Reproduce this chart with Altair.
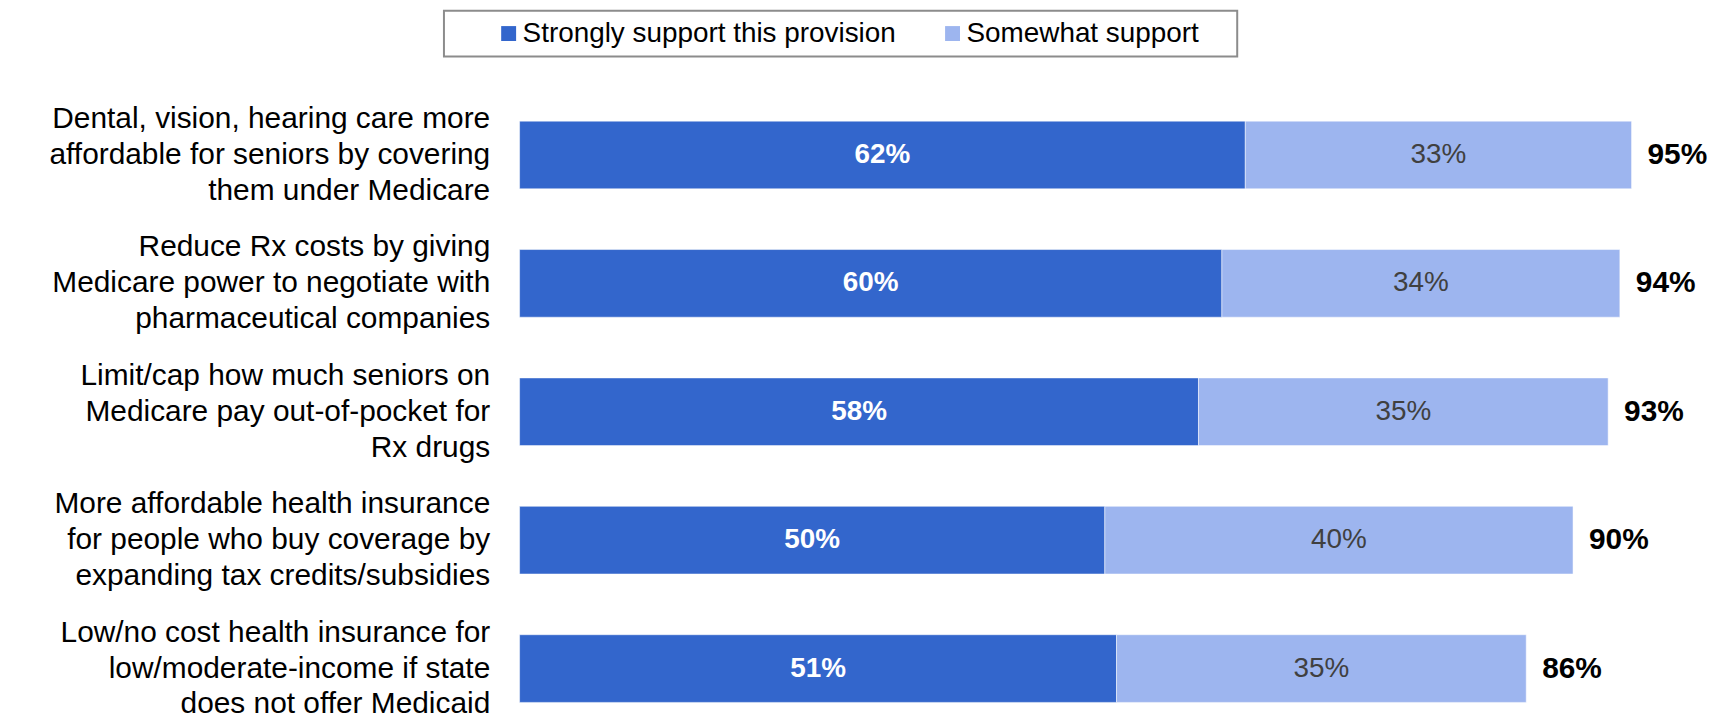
import altair as alt
import pandas as pd

items = [
    "Dental, vision, hearing care more|affordable for seniors by covering|them under Medicare",
    "Reduce Rx costs by giving|Medicare power to negotiate with|pharmaceutical companies",
    "Limit/cap how much seniors on|Medicare pay out-of-pocket for|Rx drugs",
    "More affordable health insurance|for people who buy coverage by|expanding tax credits/subsidies",
    "Low/no cost health insurance for|low/moderate-income if state|does not offer Medicaid",
]
strong = [62, 60, 58, 50, 51]
somewhat = [33, 34, 35, 40, 35]
totals = [95, 94, 93, 90, 86]
series = ["Strongly support this provision", "Somewhat support"]
colors = ["#3366CC", "#9DB5EF"]

FONT = "Liberation Sans"

rows = []
for i, it in enumerate(items):
    rows.append({"item": it, "series": series[0], "value": strong[i], "order": 0})
    rows.append({"item": it, "series": series[1], "value": somewhat[i], "order": 1})
df = pd.DataFrame(rows)
tot = pd.DataFrame({"item": items, "total": totals})

yenc = alt.Y(
    "item:N",
    sort=items,
    title=None,
    scale=alt.Scale(paddingInner=0.473, paddingOuter=0),
    axis=alt.Axis(
        labelExpr="split(datum.label, '|')",
        labelFontSize=30,
        labelLineHeight=36,
        labelOffset=-36,
        labelPadding=30,
        labelColor="black",
        labelFont=FONT,
        labelLimit=0,
        domain=False,
        ticks=False,
    ),
)
xscale = alt.Scale(domain=[0, 100])

base = alt.Chart(df).transform_stack(
    stack="value", groupby=["item"], as_=["x0", "x1"], sort=[alt.SortField("order")]
).transform_calculate(mid="(datum.x0 + datum.x1) / 2", lab="datum.value + '%'")

bars = base.mark_bar(stroke="white", strokeWidth=0.5).encode(
    x=alt.X("x0:Q", scale=xscale, axis=None),
    x2="x1:Q",
    y=yenc,
    color=alt.Color(
        "series:N",
        scale=alt.Scale(domain=series, range=colors),
        legend=alt.Legend(
            orient="none",
            legendX=-76,
            legendY=-111,
            direction="horizontal",
            title="\u00a0",
            titleOrient="left",
            titleFontSize=2,
            titlePadding=42,
            padding=9,
            strokeColor="#8c8c8c",
            symbolType="square",
            symbolSize=225,
            symbolStrokeWidth=0,
            labelFontSize=28,
            labelFont=FONT,
            labelColor="black",
            labelOffset=0,
            columnPadding=42,
            labelLimit=0,
            labelExpr="datum.label == 'Somewhat support' ? datum.label + '\u00a0\u2800' : datum.label",
        ),
    ),
    order=alt.Order("order:Q"),
)

strong_lab = base.transform_filter("datum.order == 0").mark_text(
    color="white", fontWeight="bold", fontSize=28, font=FONT, baseline="middle"
).encode(x=alt.X("mid:Q", scale=xscale, axis=None), y=yenc, text="lab:N")

some_lab = base.transform_filter("datum.order == 1").mark_text(
    color="#404040", fontSize=28, font=FONT, baseline="middle"
).encode(x=alt.X("mid:Q", scale=xscale, axis=None), y=yenc, text="lab:N")

tot_lab = alt.Chart(tot).transform_calculate(lab="datum.total + '%'").mark_text(
    align="left", dx=16, color="black", fontWeight="bold", fontSize=30, font=FONT, baseline="middle"
).encode(x=alt.X("total:Q", scale=xscale, axis=None), y=yenc, text="lab:N")

chart = alt.layer(bars, strong_lab, some_lab, tot_lab).properties(
    width=1176,
    height=584,
    padding={"left": 514, "top": 112, "right": 18, "bottom": 13},
    autosize=alt.AutoSizeParams(type="none"),
    background="white",
).configure_view(stroke=None).configure_legend(strokeWidth=2)

chart.save("out.html", embed_options={"renderer": "svg", "actions": False})
